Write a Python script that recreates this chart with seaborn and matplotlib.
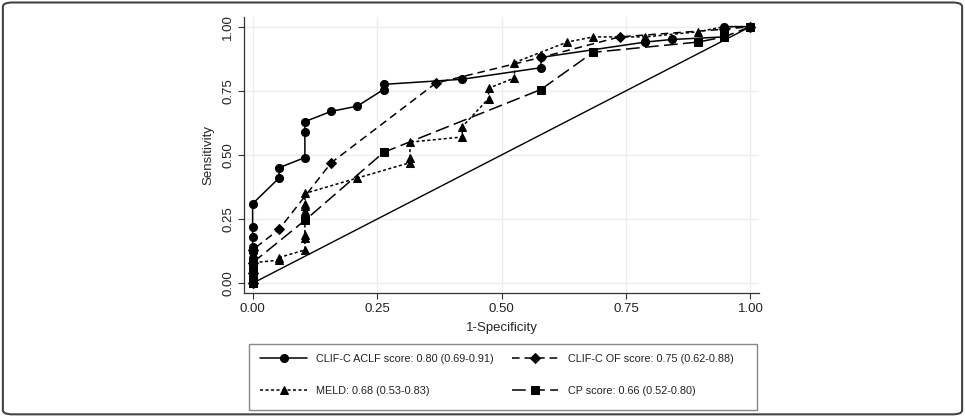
import numpy as np
import pandas as pd
import matplotlib
matplotlib.use("Agg")
import matplotlib.pyplot as plt
import seaborn as sns
from matplotlib.patches import FancyBboxPatch, Rectangle

# --- DATA ---
aclf_x = [0, 0, 0, 0, 0, 0, 0, 0, 0, 0, 0, 0.053, 0.053, 0.105, 0.105, 0.105, 0.158, 0.21,
          0.263, 0.263, 0.421, 0.579, 0.579, 0.789, 0.842, 0.947, 0.947, 0.947, 1.0]
aclf_y = [0, 0.02, 0.04, 0.06, 0.08, 0.10, 0.12, 0.14, 0.18, 0.22, 0.31, 0.41, 0.45, 0.49, 0.59, 0.63,
          0.67, 0.69, 0.755, 0.775, 0.795, 0.84, 0.88, 0.94, 0.95, 0.96, 0.98, 1.0, 1.0]

of_x = [0, 0, 0, 0, 0.053, 0.158, 0.368, 0.579, 0.737, 0.947, 1.0]
of_y = [0, 0.04, 0.08, 0.13, 0.21, 0.47, 0.78, 0.88, 0.96, 0.99, 1.0]

meld_x = [0, 0, 0, 0.053, 0.053, 0.105, 0.105, 0.105, 0.105, 0.105, 0.105, 0.105, 0.21,
          0.316, 0.316, 0.316, 0.421, 0.421, 0.474, 0.474, 0.526, 0.526, 0.632, 0.684,
          0.789, 0.895, 0.947, 1.0]
meld_y = [0, 0.04, 0.08, 0.09, 0.10, 0.13, 0.175, 0.19, 0.28, 0.30, 0.31, 0.35, 0.41,
          0.47, 0.49, 0.55, 0.57, 0.61, 0.72, 0.76, 0.80, 0.86, 0.94, 0.96,
          0.96, 0.98, 1.0, 1.0]

cp_x = [0, 0, 0, 0.105, 0.263, 0.579, 0.684, 0.895, 0.947, 1.0]
cp_y = [0, 0.04, 0.08, 0.245, 0.51, 0.755, 0.90, 0.94, 0.96, 1.0]

ref_x = [0, 1]
ref_y = [0, 1]

labels = ["CLIF-C ACLF score: 0.80 (0.69-0.91)",
          "CLIF-C OF score: 0.75 (0.62-0.88)",
          "MELD: 0.68 (0.53-0.83)",
          "CP score: 0.66 (0.52-0.80)"]

# --- STYLE ---
sns.set_style("white")
plt.rcParams['font.family'] = ['Liberation Sans', 'DejaVu Sans']
plt.rcParams['text.color'] = '#222222'

fig = plt.figure(figsize=(9.65, 4.16), dpi=100)
ax = fig.add_axes([0.253, 0.295, 0.534, 0.665])

ax.grid(True, color='#ececec', linewidth=0.9)
ax.set_axisbelow(True)

series = [
    (aclf_x, aclf_y, 'o', '-', 5.8),
    (of_x, of_y, 'D', (0, (5, 3.2)), 5.2),
    (meld_x, meld_y, '^', (0, (2, 1.6)), 6.2),
    (cp_x, cp_y, 's', (0, (9, 3.5)), 5.4),
]

handles = []
for (xs, ys, mk, ls, ms), lab in zip(series, labels):
    df = pd.DataFrame({'x': xs, 'y': ys})
    sns.lineplot(data=df, x='x', y='y', estimator=None, sort=False, ax=ax,
                 color='black', linewidth=1.1, linestyle=ls, marker=mk,
                 markersize=ms, markeredgecolor='black', label=lab, zorder=3)
    handles.append(ax.lines[-1])

df_ref = pd.DataFrame({'x': ref_x, 'y': ref_y})
sns.lineplot(data=df_ref, x='x', y='y', estimator=None, ax=ax, color='black',
             linewidth=1.0, zorder=2)

if ax.get_legend() is not None:
    ax.get_legend().remove()

ax.set_xlim(-0.017, 1.018)
ax.set_ylim(-0.039, 1.039)
ticks = [0, 0.25, 0.5, 0.75, 1.0]
ax.set_xticks(ticks)
ax.set_yticks(ticks)
ax.set_xticklabels(["0.00", "0.25", "0.50", "0.75", "1.00"], fontsize=9.5)
ax.set_yticklabels(["0.00", "0.25", "0.50", "0.75", "1.00"], fontsize=9.5,
                   rotation=90, va='center')
ax.tick_params(axis='both', direction='out', length=4, width=0.8, color='#333333',
               labelcolor='#222222', pad=3)
ax.tick_params(bottom=True, left=True)
ax.set_xlabel("1-Specificity", fontsize=9.5, labelpad=5)
ax.set_ylabel("Sensitivity", fontsize=9.5, labelpad=6)

for side in ['top', 'right']:
    ax.spines[side].set_visible(False)
for side in ['left', 'bottom']:
    ax.spines[side].set_color('#333333')
    ax.spines[side].set_linewidth(0.9)

# legend: order column-wise so rows read ACLF / OF, MELD / CP
order = [0, 2, 1, 3]
leg = fig.legend([handles[i] for i in order], [labels[i] for i in order],
                 ncol=2, loc='center left', bbox_to_anchor=(255 / 965, 1 - 375 / 416),
                 fontsize=7.8, handlelength=4.3, numpoints=1, frameon=False,
                 borderpad=0, labelspacing=2.0, columnspacing=1.66, handletextpad=0.85)

# legend box drawn separately so it spans the same width as in the original
fig.patches.append(Rectangle((249 / 965, 1 - 410 / 416), 508 / 965, 66 / 416,
                             transform=fig.transFigure, facecolor='none',
                             edgecolor='#888888', linewidth=1.0))

# outer border of the figure panel
border = FancyBboxPatch((0.003, 0.004), 0.994, 0.99, boxstyle="round,pad=0,rounding_size=0.01",
                        transform=fig.transFigure, facecolor='none', edgecolor='#444444',
                        linewidth=1.5)
fig.patches.append(border)

fig.savefig("out.png", dpi=100)
